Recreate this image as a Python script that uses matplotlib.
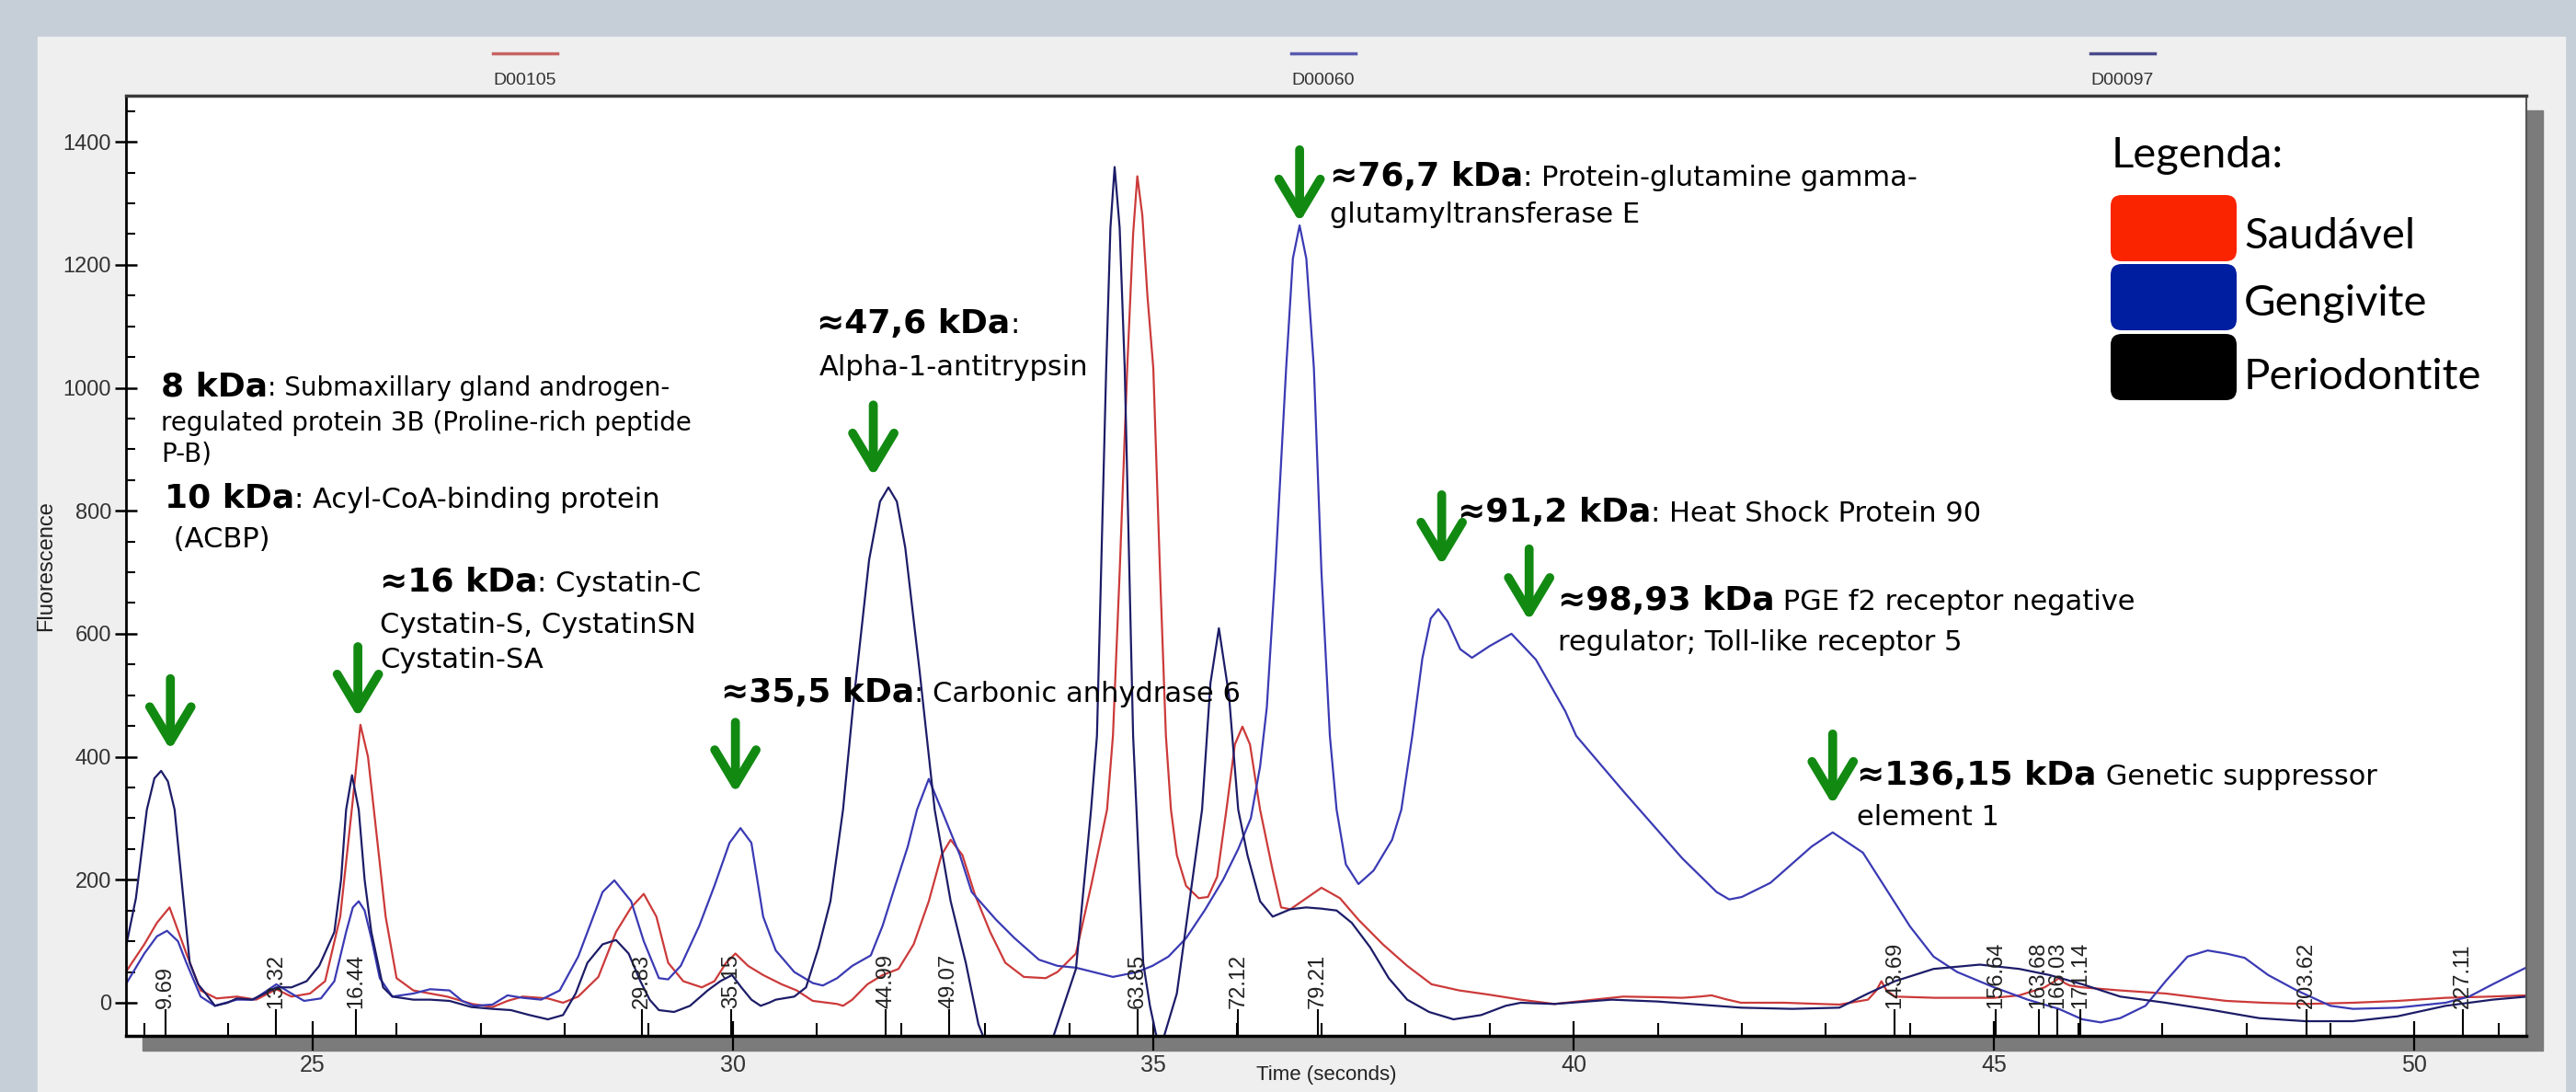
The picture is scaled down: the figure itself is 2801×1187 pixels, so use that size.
import numpy as np
import matplotlib
matplotlib.use("Agg")
import matplotlib.pyplot as plt
from matplotlib import font_manager
from matplotlib.patches import Rectangle, FancyBboxPatch
from matplotlib.lines import Line2D
from matplotlib.ticker import MultipleLocator, FixedLocator
from matplotlib.transforms import Affine2D

W, H, DPI = 2801, 1187, 100

# electropherogram traces: (time in s, fluorescence)
saudavel = [
    (22.78, 50), (23.0, 95), (23.15, 130), (23.3, 155), (23.5, 80), (23.67, 20),
    (23.86, 7), (24.1, 10), (24.33, 5), (24.57, 22), (24.75, 10), (24.97, 15),
    (25.15, 35), (25.33, 140), (25.48, 330), (25.57, 452), (25.66, 400), (25.73, 314),
    (25.87, 140), (26.0, 40), (26.2, 20), (26.6, 10), (26.9, -2), (27.14, -7),
    (27.32, 3), (27.5, 10), (27.8, 7), (27.98, 0), (28.16, 10), (28.4, 42),
    (28.61, 115), (28.79, 155), (28.94, 177), (29.09, 140), (29.23, 65), (29.41, 35),
    (29.63, 25), (29.78, 35), (29.92, 65), (30.03, 80), (30.18, 60), (30.36, 45),
    (30.58, 30), (30.76, 20), (30.95, 3), (31.24, -2), (31.31, -5), (31.42, 5),
    (31.6, 30), (31.78, 45), (31.97, 55), (32.15, 95), (32.33, 165), (32.48, 240),
    (32.59, 265), (32.73, 240), (32.88, 175), (33.06, 115), (33.24, 65), (33.46, 42),
    (33.72, 40), (33.86, 50), (34.08, 80), (34.26, 190), (34.45, 314), (34.52, 434),
    (34.6, 700), (34.69, 1032), (34.76, 1250), (34.81, 1344), (34.87, 1280), (34.93, 1150),
    (35.0, 1032), (35.08, 700), (35.15, 434), (35.21, 314), (35.28, 240), (35.39, 190),
    (35.54, 170), (35.65, 172), (35.76, 205), (35.87, 314), (35.97, 420), (36.06, 449),
    (36.15, 420), (36.27, 314), (36.42, 215), (36.52, 155), (36.63, 152), (36.82, 170),
    (37.0, 187), (37.22, 170), (37.44, 135), (37.73, 95), (38.02, 60), (38.31, 30),
    (38.64, 20), (39.0, 13), (39.37, 5), (39.77, -2), (40.24, 5), (40.59, 10),
    (41.0, 9), (41.29, 8), (41.5, 10), (41.64, 12), (41.8, 6), (41.99, 0),
    (42.5, 0), (43.16, -3), (43.5, 5), (43.6, 20), (43.66, 35), (43.72, 20),
    (43.82, 10), (44.3, 8), (45.0, 8), (45.3, 12), (45.6, 25), (45.72, 35),
    (45.77, 40), (45.84, 32), (45.9, 28), (46.05, 25), (46.5, 20), (47.04, 15),
    (47.76, 3), (48.2, 0), (48.7, -2), (49.27, 0), (49.8, 3), (50.37, 8),
    (50.9, 10), (51.34, 12),
]

gengivite = [
    (22.78, 30), (23.0, 80), (23.15, 108), (23.27, 117), (23.4, 100), (23.5, 65),
    (23.67, 10), (23.84, -5), (24.1, 5), (24.3, 5), (24.57, 30), (24.75, 15),
    (24.9, 3), (25.1, 7), (25.26, 35), (25.4, 115), (25.48, 155), (25.55, 165),
    (25.62, 150), (25.7, 105), (25.8, 40), (25.95, 10), (26.2, 15), (26.4, 22),
    (26.63, 20), (26.78, 3), (26.92, -5), (27.14, -3), (27.32, 12), (27.5, 8),
    (27.72, 5), (27.94, 20), (28.16, 75), (28.45, 180), (28.59, 199), (28.79, 165),
    (28.94, 100), (29.12, 40), (29.23, 38), (29.38, 60), (29.6, 125), (29.78, 190),
    (29.96, 260), (30.09, 284), (30.22, 260), (30.36, 140), (30.51, 85), (30.73, 50),
    (30.95, 32), (31.07, 28), (31.24, 40), (31.42, 60), (31.64, 77), (31.78, 125),
    (31.93, 190), (32.08, 254), (32.19, 314), (32.33, 364), (32.48, 314), (32.7, 240),
    (32.84, 180), (33.13, 135), (33.35, 105), (33.64, 70), (33.86, 60), (34.08, 57),
    (34.52, 42), (34.81, 50), (34.99, 60), (35.18, 75), (35.39, 105), (35.61, 150),
    (35.83, 200), (36.01, 250), (36.16, 300), (36.27, 384), (36.35, 480), (36.45, 700),
    (36.58, 1032), (36.66, 1210), (36.74, 1264), (36.82, 1210), (36.91, 1032), (37.0, 700),
    (37.1, 434), (37.18, 314), (37.29, 225), (37.44, 193), (37.62, 215), (37.84, 265),
    (37.95, 314), (38.08, 434), (38.2, 560), (38.3, 625), (38.39, 640), (38.5, 620),
    (38.65, 575), (38.79, 561), (39.0, 580), (39.26, 600), (39.55, 558), (39.9, 474),
    (40.03, 434), (40.59, 344), (41.29, 235), (41.7, 180), (41.85, 168), (42.0, 172),
    (42.34, 195), (42.83, 254), (43.08, 277), (43.44, 244), (43.72, 184), (44.0, 124),
    (44.28, 75), (44.56, 50), (45.0, 25), (45.4, 5), (45.77, -10), (46.05, -27),
    (46.27, -32), (46.5, -25), (46.8, -5), (47.04, 35), (47.3, 75), (47.54, 85),
    (47.76, 80), (47.98, 73), (48.26, 45), (48.6, 20), (49.0, -5), (49.27, -10),
    (49.8, -8), (50.37, 0), (50.65, 10), (50.93, 30), (51.34, 58),
]

periodontite = [
    (22.78, 90), (22.9, 170), (23.03, 314), (23.12, 365), (23.2, 377), (23.28, 360),
    (23.36, 314), (23.45, 190), (23.54, 65), (23.64, 30), (23.73, 15), (23.84, -5),
    (23.99, 0), (24.1, 7), (24.28, 5), (24.43, 15), (24.57, 25), (24.75, 25),
    (24.93, 35), (25.08, 60), (25.26, 115), (25.34, 200), (25.4, 314), (25.47, 370),
    (25.55, 314), (25.62, 200), (25.7, 115), (25.84, 25), (25.95, 10), (26.2, 5),
    (26.4, 5), (26.63, 3), (26.89, -7), (27.14, -10), (27.36, -12), (27.58, -20),
    (27.8, -27), (27.98, -20), (28.13, 15), (28.27, 65), (28.45, 95), (28.61, 102),
    (28.76, 80), (28.9, 35), (29.01, 5), (29.12, -12), (29.3, -15), (29.49, -5),
    (29.7, 20), (29.85, 35), (29.99, 45), (30.1, 25), (30.22, 5), (30.33, -5),
    (30.43, 0), (30.51, 5), (30.73, 10), (30.87, 25), (31.02, 90), (31.16, 165),
    (31.31, 314), (31.43, 483), (31.62, 720), (31.75, 815), (31.85, 838), (31.95, 815),
    (32.05, 740), (32.22, 540), (32.4, 314), (32.59, 165), (32.77, 65), (32.92, -35),
    (33.05, -80), (33.4, -110), (33.75, -80), (33.86, -35), (34.08, 55), (34.26, 314),
    (34.33, 434), (34.44, 1032), (34.49, 1260), (34.54, 1359), (34.6, 1260), (34.66, 1032),
    (34.76, 434), (34.8, 314), (34.88, 65), (34.96, -5), (35.03, -50), (35.06, -62),
    (35.12, -58), (35.28, 15), (35.43, 165), (35.58, 314), (35.68, 520), (35.78, 609),
    (35.9, 500), (36.01, 314), (36.12, 240), (36.27, 165), (36.42, 140), (36.63, 152),
    (36.82, 155), (37.0, 153), (37.18, 150), (37.36, 130), (37.58, 90), (37.8, 40),
    (38.02, 5), (38.28, -15), (38.57, -27), (38.9, -20), (39.19, -5), (39.37, 0),
    (39.77, -2), (40.45, 5), (41.0, 2), (41.99, -8), (42.6, -10), (43.16, -8),
    (43.5, 15), (43.82, 35), (44.28, 55), (44.83, 62), (45.3, 55), (45.66, 45),
    (46.05, 30), (46.5, 10), (47.04, 0), (47.6, -12), (48.15, -25), (48.7, -30),
    (49.27, -30), (49.8, -22), (50.37, -5), (50.93, 5), (51.34, 10),
]

# size calls (kDa) printed along the time axis
peak_times = [23.256, 24.568, 25.516, 28.92, 29.98, 31.82, 32.567, 34.81, 36.01,
              36.96, 43.815, 45.017, 45.53, 45.755, 46.03, 48.716, 50.577]
peak_sizes = ['9.69', '13.32', '16.44', '29.83', '35.15', '44.99', '49.07', '63.85',
              '72.12', '79.21', '143.69', '156.64', '163.68', '166.03', '171.14',
              '203.62', '227.11']

# green arrows marking the identified peaks
arrow_times = [23.31, 25.54, 30.03, 31.67, 36.74, 38.43, 39.47, 43.08]
arrow_tips = [411, 464, 341, 856, 1269, 711, 621, 322]
arrow_tails = [527, 579, 456, 972, 1387, 826, 738, 437]

# protein notes: time, baseline, bold part, plain part, plain size
notes = [
    (23.20, 987, '8 kDa', ': Submaxillary gland androgen-', 20),
    (23.20, 931, '', 'regulated protein 3B (Proline-rich peptide', 20),
    (23.20, 880, '', 'P-B)', 20),
    (23.24, 805, '10 kDa', ': Acyl-CoA-binding protein', 22),
    (23.24, 741, '', ' (ACBP)', 22),
    (25.80, 669, '≈16 kDa', ': Cystatin-C', 22),
    (25.80, 601, '', 'Cystatin-S, CystatinSN', 22),
    (25.80, 545, '', 'Cystatin-SA', 22),
    (29.86, 489, '≈35,5 kDa', ': Carbonic anhydrase 6', 22),
    (31.00, 1089, '≈47,6 kDa', ':', 22),
    (31.03, 1020, '', 'Alpha-1-antitrypsin', 22),
    (37.10, 1328, '≈76,7 kDa', ': Protein-glutamine gamma-', 22),
    (37.10, 1269, '', 'glutamyltransferase E', 22),
    (38.62, 782, '≈91,2 kDa', ': Heat Shock Protein 90', 22),
    (39.81, 639, '≈98,93 kDa', ' PGE f2 receptor negative', 22),
    (39.81, 573, '', 'regulator; Toll-like receptor 5', 22),
    (43.37, 355, '≈136,15 kDa', ' Genetic suppressor', 22),
    (43.37, 289, '', 'element 1', 22),
]

legend_names = ['Saudável', 'Gengivite', 'Periodontite']
legend_colors = ['#fa2400', '#001ea0', '#000000']
sample_ids = ['D00105', 'D00060', 'D00097']

RED, BLUE, NAVY = '#cc3a3a', '#3a3ab4', '#1c1c68'
GREEN = '#128a12'

names = {f.name for f in font_manager.fontManager.ttflist}
NARROW = 'Liberation Sans Narrow' if 'Liberation Sans Narrow' in names else 'Liberation Sans'

fig = plt.figure(figsize=(W / DPI, H / DPI), dpi=DPI, facecolor='#c6ced8')
# pixel coordinates measured from the top-left corner
PX = Affine2D().scale(1, -1).translate(0, H)

fig.add_artist(Rectangle((41, 40), 2789 - 41, H, transform=PX, color='#efefef', zorder=-3))
fig.add_artist(Rectangle((155, 120), 2765 - 155, 1142 - 120, transform=PX, color='#7b7b7b', zorder=-2))

ax = fig.add_axes([137 / W, 1 - 1126 / H, (2747 - 137) / W, (1126 - 104) / H])
ax.set_facecolor('white')

for data, col in [(saudavel, RED), (gengivite, BLUE), (periodontite, NAVY)]:
    t, f = np.array(data).T
    ax.plot(t, f, color=col, lw=1.6)

ax.set_xlim(22.782, 51.33)
ax.set_ylim(-53.9, 1475)

ax.xaxis.set_major_locator(MultipleLocator(5))
ax.xaxis.set_minor_locator(MultipleLocator(1))
ax.yaxis.set_major_locator(MultipleLocator(200))
ax.yaxis.set_minor_locator(FixedLocator(np.arange(50, 1500, 50)))
ax.tick_params(axis='x', which='major', direction='inout', length=23, width=1.6, pad=3,
               labelsize=18, labelcolor='#333333', labelfontfamily=NARROW)
ax.tick_params(axis='x', which='minor', direction='in', length=10, width=1.5)
ax.tick_params(axis='y', which='major', direction='inout', length=17, width=1.8, pad=3,
               labelsize=17, labelcolor='#333333', labelfontfamily=NARROW)
ax.tick_params(axis='y', which='minor', direction='in', length=7, width=1.5)

ax.spines['left'].set_linewidth(2)
ax.spines['bottom'].set_linewidth(2.5)
ax.spines['top'].set_linewidth(2.5)
ax.spines['top'].set_color('#3a3a3a')
ax.spines['right'].set_linewidth(1.5)
ax.spines['right'].set_color('#555555')

ax.set_ylabel('Fluorescence', fontsize=17, family='Liberation Sans', color='#222222', labelpad=5)
# the label sits between the 35 and 40 tick labels, kept inside the picture
ax.set_xlabel('Time (seconds)', fontsize=16, family='Liberation Sans', color='#222222')
ax.xaxis.set_label_coords(0.5, -0.031)

# size call markers
ax.vlines(peak_times, -53.9, -10.5, color='black', lw=1.5)
for t, lab in zip(peak_times, peak_sizes):
    ax.text(t, -9, lab, rotation=90, ha='center', va='bottom', fontsize=17,
            family=NARROW, color='#222222')

for t, tip, tail in zip(arrow_times, arrow_tips, arrow_tails):
    ax.annotate('', xy=(t, tip), xytext=(t, tail),
                arrowprops=dict(arrowstyle='->, head_length=0.45, head_width=0.27',
                                lw=7, color=GREEN, shrinkA=0, shrinkB=0,
                                mutation_scale=60))

for t, base, bold, plain, size in notes:
    if bold:
        b = ax.text(t, base, bold, fontsize=26, fontweight='bold', va='baseline', ha='left')
        ax.annotate(plain, xy=(1, base), xycoords=(b, 'data'), va='baseline', ha='left',
                    fontsize=size)
    else:
        ax.text(t, base, plain, fontsize=size, va='baseline', ha='left')

# legend on the right
fig.text(2296, 182, 'Legenda:', transform=PX, family='Lato', fontsize=34,
         va='baseline', ha='left', zorder=5)
box_tops = [212, 287, 363]
label_bases = [270, 343, 423]
for top, base, name, col in zip(box_tops, label_bases, legend_names, legend_colors):
    fig.add_artist(FancyBboxPatch((2295, top), 137, 72, transform=PX,
                                  boxstyle='round,pad=0,rounding_size=12',
                                  fc=col, ec='none', zorder=5))
    fig.text(2440, base, name, transform=PX, family='Lato', fontsize=34,
             va='baseline', ha='left', zorder=5)

# sample strip above the plot
for xc, sid, col in zip([571, 1439, 2308], sample_ids, ['#c86464', '#5a5ab0', '#4a4a8c']):
    fig.add_artist(Line2D([xc - 35, xc + 35], [58, 58], transform=PX, color=col, lw=2.5))
    fig.text(xc, 87, sid, transform=PX, family=NARROW, fontsize=14, color='#333333',
             ha='center', va='center')

fig.savefig('out.png', dpi=DPI, facecolor=fig.get_facecolor())
